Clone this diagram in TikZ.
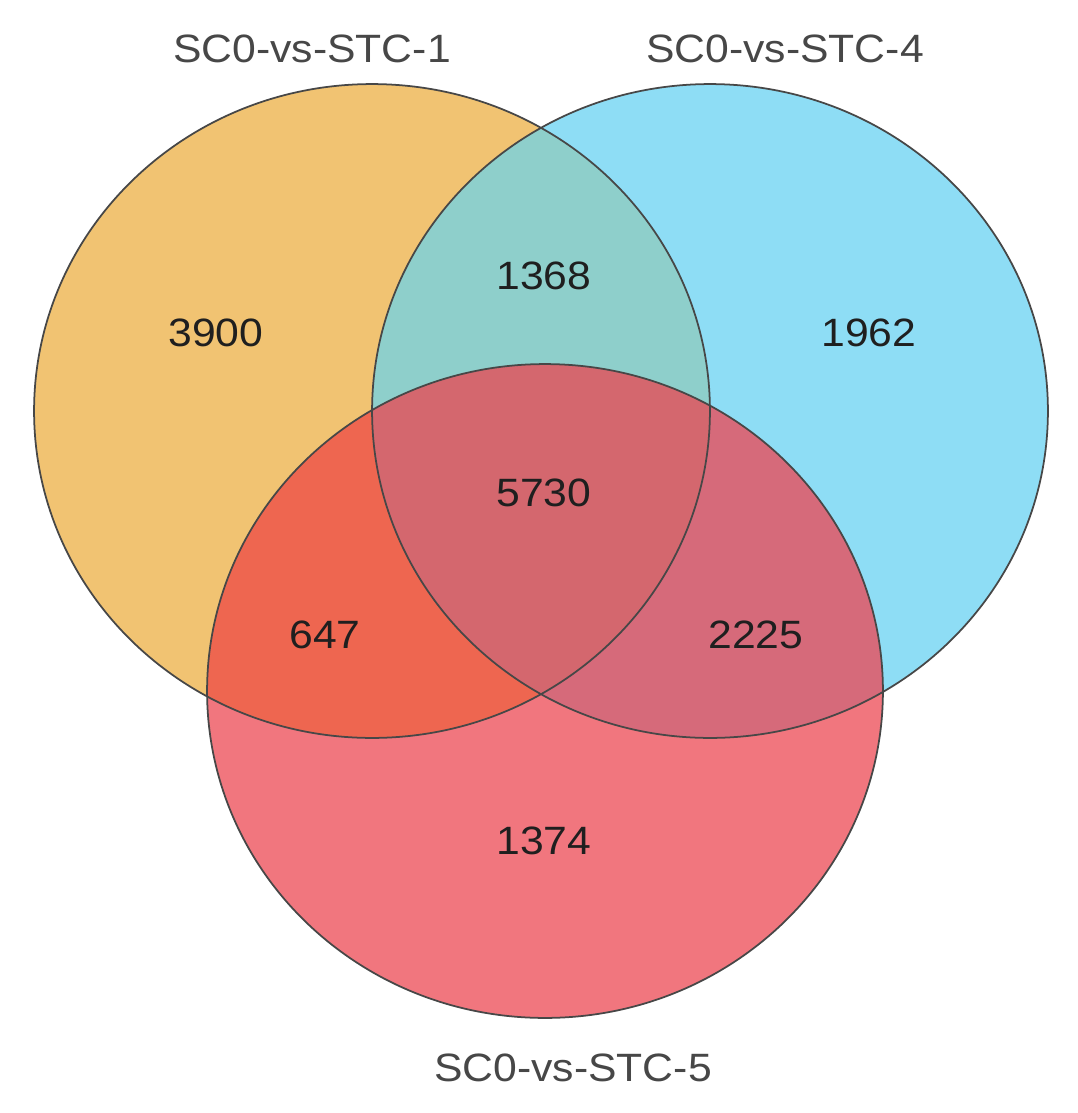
\documentclass[tikz,border=0pt]{standalone}
\usepackage{fontspec}
\setmainfont{Liberation Sans}[FakeStretch=1.08]
\usepackage{tikz}
\usetikzlibrary{positioning}
\definecolor{setone}{HTML}{F1C372}
\definecolor{setfour}{HTML}{8EDDF5}
\definecolor{setfive}{HTML}{F1767E}
\definecolor{onefour}{HTML}{8ECFCB}
\definecolor{onefive}{HTML}{EE6650}
\definecolor{fourfive}{HTML}{D66A7A}
\definecolor{allthree}{HTML}{D4676E}

\begin{document}
\begin{tikzpicture}[x=0.02cm,y=0.02cm,x radius=6.76cm,y radius=6.54cm,
    setname/.style={font=\fontsize{22.5}{27}\selectfont,text=black!72},
    count/.style={font=\fontsize{22.5}{27}\selectfont,text=black!88},
    rim/.style={draw=black!72,line width=1pt}]
  \useasboundingbox (0,0) rectangle (1078,-1113);
  \coordinate (c1) at (372,-411);
  \coordinate (c4) at (710,-411);
  \coordinate (c5) at (545,-691);
  % plain sets
  \fill[setone] (c1) ellipse;
  \fill[setfour] (c4) ellipse;
  \fill[setfive] (c5) ellipse;
  % pairwise overlaps
  \begin{scope}
    \clip (c1) ellipse;
    \fill[onefour] (c4) ellipse;
    \fill[onefive] (c5) ellipse;
  \end{scope}
  \begin{scope}
    \clip (c4) ellipse;
    \fill[fourfive] (c5) ellipse;
    % all three
    \clip (c1) ellipse;
    \fill[allthree] (c5) ellipse;
  \end{scope}
  % outlines
  \foreach \c in {c1,c4,c5}
    \draw[rim] (\c) ellipse;
  % set names
  \node[setname] (name1) at (312,-49) {SC0-vs-STC-1};
  \node[setname] (name4) at (785,-49) {SC0-vs-STC-4};
  \node[setname] (name5) at (573,-1068) {SC0-vs-STC-5};
  % region counts
  \foreach \n/\x/\y in {3900/216/333,1368/544/276,1962/869/333,5730/544/493,
                        647/325/635,2225/756/635,1374/544/841}
    \node[count] (n\n) at (\x,-\y) {\n};
\end{tikzpicture}
\end{document}
